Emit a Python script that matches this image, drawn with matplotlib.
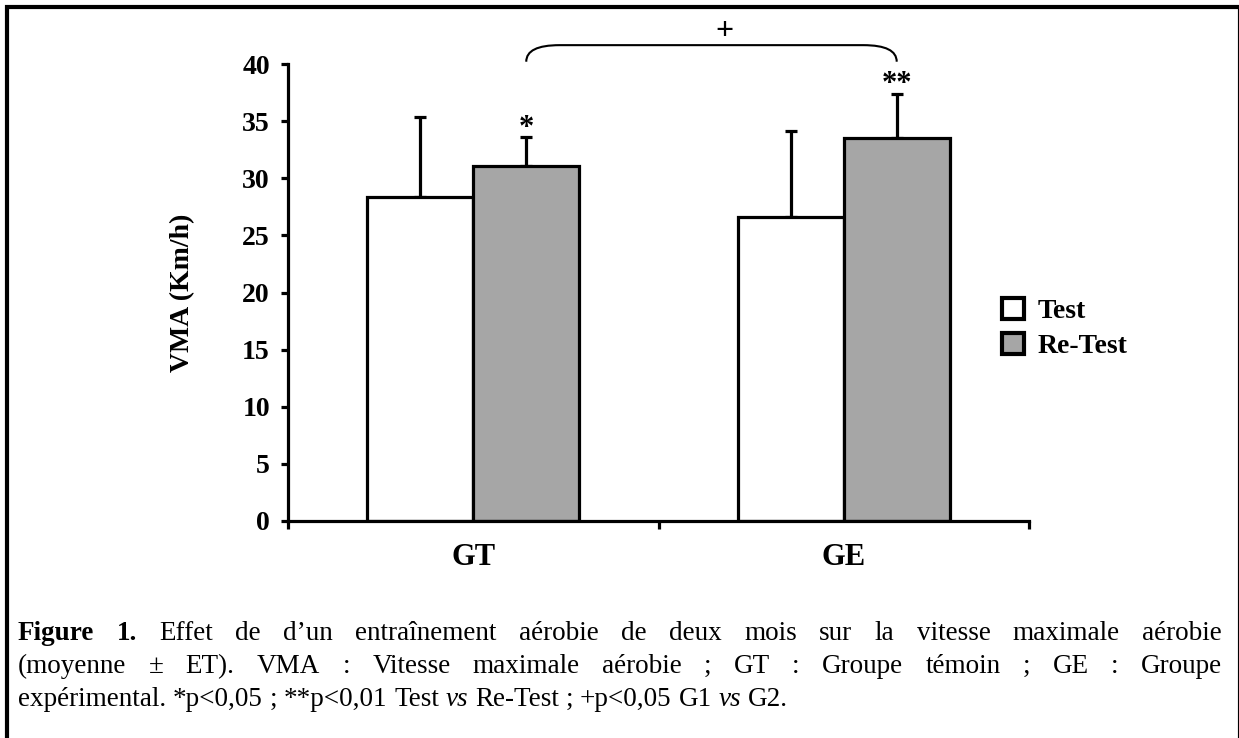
import numpy as np
import matplotlib
matplotlib.use('Agg')
import matplotlib.pyplot as plt
from matplotlib.path import Path
from matplotlib.patches import PathPatch, Rectangle

plt.rcParams['font.family'] = ['Liberation Serif', 'DejaVu Serif']

groups = ['GT', 'GE']
test_mean = [28.4, 26.6]
test_err = [7.0, 7.5]
retest_mean = [31.1, 33.5]
retest_err = [2.5, 3.9]
series_labels = ['Test', 'Re-Test']
stars = ['*', '**']
y_ticks = [0, 5, 10, 15, 20, 25, 30, 35, 40]

caption_lines = [
    [('Figure', 'b'), ('1.', 'b'), ('Effet', ''), ('de', ''), ('d\u2019un', ''), ('entra\u00eenement', ''),
     ('a\u00e9robie', ''), ('de', ''), ('deux', ''), ('mois', ''), ('sur', ''), ('la', ''),
     ('vitesse', ''), ('maximale', ''), ('a\u00e9robie', '')],
    [('(moyenne', ''), ('\u00b1', ''), ('ET).', ''), ('VMA', ''), (':', ''), ('Vitesse', ''),
     ('maximale', ''), ('a\u00e9robie', ''), (';', ''), ('GT', ''), (':', ''), ('Groupe', ''),
     ('t\u00e9moin', ''), (';', ''), ('GE', ''), (':', ''), ('Groupe', '')],
    [('exp\u00e9rimental.', ''), ('*p<0,05', ''), (';', ''), ('**p<0,01', ''), ('Test', ''),
     ('vs', 'i'), ('Re-Test', ''), (';', ''), ('+p<0,05', ''), ('G1', ''), ('vs', 'i'), ('G2.', '')],
]

W, H = 1239, 738
fig = plt.figure(figsize=(W / 100, H / 100), dpi=100)
ax = fig.add_axes([288 / W, 1 - 521 / H, 741 / W, 457 / H])

x = np.arange(len(groups))
w = 0.286
lw = 2.3
b1 = ax.bar(x - w / 2, test_mean, w, color='white', edgecolor='black', linewidth=lw,
            label=series_labels[0], zorder=2)
b2 = ax.bar(x + w / 2, retest_mean, w, color='#a6a6a6', edgecolor='black', linewidth=lw,
            label=series_labels[1], zorder=2)
ax.errorbar(x - w / 2, test_mean, yerr=[np.zeros(2), test_err], fmt='none', ecolor='black',
            elinewidth=lw, capsize=4.5, capthick=lw, zorder=1)
ax.errorbar(x + w / 2, retest_mean, yerr=[np.zeros(2), retest_err], fmt='none', ecolor='black',
            elinewidth=lw, capsize=4.5, capthick=lw, zorder=1)

for xi, m, e, s in zip(x + w / 2, retest_mean, retest_err, stars):
    ax.text(xi, m + e - 0.5, s, ha='center', va='bottom', fontsize=22, fontweight='bold')

# bracket between the two Re-Test bars
x0, x1 = x[0] + w / 2, x[1] + w / 2
y0, y1 = 40.2, 41.65
verts = [(x0, y0), (x0, y1), (x0 + 0.09, y1), (x1 - 0.09, y1), (x1, y1), (x1, y0)]
codes = [Path.MOVETO, Path.CURVE3, Path.CURVE3, Path.LINETO, Path.CURVE3, Path.CURVE3]
ax.add_patch(PathPatch(Path(verts, codes), fill=False, lw=1.5, clip_on=False))
ax.text((x0 + x1) / 2 + 0.035, y1 - 0.1, '+', ha='center', va='bottom', fontsize=23, fontweight='bold')

ax.set_xlim(-0.5, 1.5)
ax.set_ylim(0, 40)
ax.set_yticks(y_ticks)
ax.set_yticklabels([str(t) for t in y_ticks], fontsize=20, fontweight='bold')
ax.set_xticks(x)
ax.set_xticklabels(groups, fontsize=22, fontweight='bold')
ax.set_xticks([-0.5, 0.5, 1.5], minor=True)
ax.tick_params(axis='x', which='major', length=0, pad=16)
ax.tick_params(axis='x', which='minor', length=6, width=lw, direction='out')
ax.tick_params(axis='y', length=5, width=lw, direction='out', pad=8)
for side in ['top', 'right']:
    ax.spines[side].set_visible(False)
for side in ['left', 'bottom']:
    ax.spines[side].set_linewidth(lw)
ax.set_ylabel('VMA (Km/h)', fontsize=20, fontweight='bold')
ax.yaxis.set_label_coords(-0.126, 0.5)

leg = ax.legend(handles=[b1, b2], loc='upper left', bbox_to_anchor=(988 / W, 1 - 284 / H),
                bbox_transform=fig.transFigure, frameon=False, prop={'size': 20, 'weight': 'bold'},
                handlelength=0.8, handleheight=0.8, handletextpad=0.5, labelspacing=0.3, borderpad=0)
for p in leg.get_patches():
    p.set_linewidth(3)

# outer frame
fig.patches.append(Rectangle((7 / W, -0.05), (W - 6) / W, 1.05 - 7 / H, fill=False, lw=3,
                             edgecolor='black', transform=fig.transFigure))

# justified caption
renderer = fig.canvas.get_renderer()
cap_size = 19.5
left, right = 18, 1222
baselines = [640, 673, 706]
sp1 = fig.text(0, 0, 'a a', fontsize=cap_size)
sp2 = fig.text(0, 0, 'aa', fontsize=cap_size)
space = sp1.get_window_extent(renderer).width - sp2.get_window_extent(renderer).width
sp1.remove()
sp2.remove()
for li, (tokens, yb) in enumerate(zip(caption_lines, baselines)):
    texts = []
    for word, st in tokens:
        t = fig.text(0, 1 - yb / H, word, fontsize=cap_size, va='baseline', ha='left',
                     fontweight='bold' if st == 'b' else 'normal',
                     fontstyle='italic' if st == 'i' else 'normal')
        texts.append(t)
    widths = [t.get_window_extent(renderer).width for t in texts]
    if li < len(caption_lines) - 1:
        gap = (right - left - sum(widths)) / (len(texts) - 1)
    else:
        gap = space
    pos = left
    for t, wd in zip(texts, widths):
        t.set_x(pos / W)
        pos += wd + gap

fig.savefig('out.png', dpi=100)
